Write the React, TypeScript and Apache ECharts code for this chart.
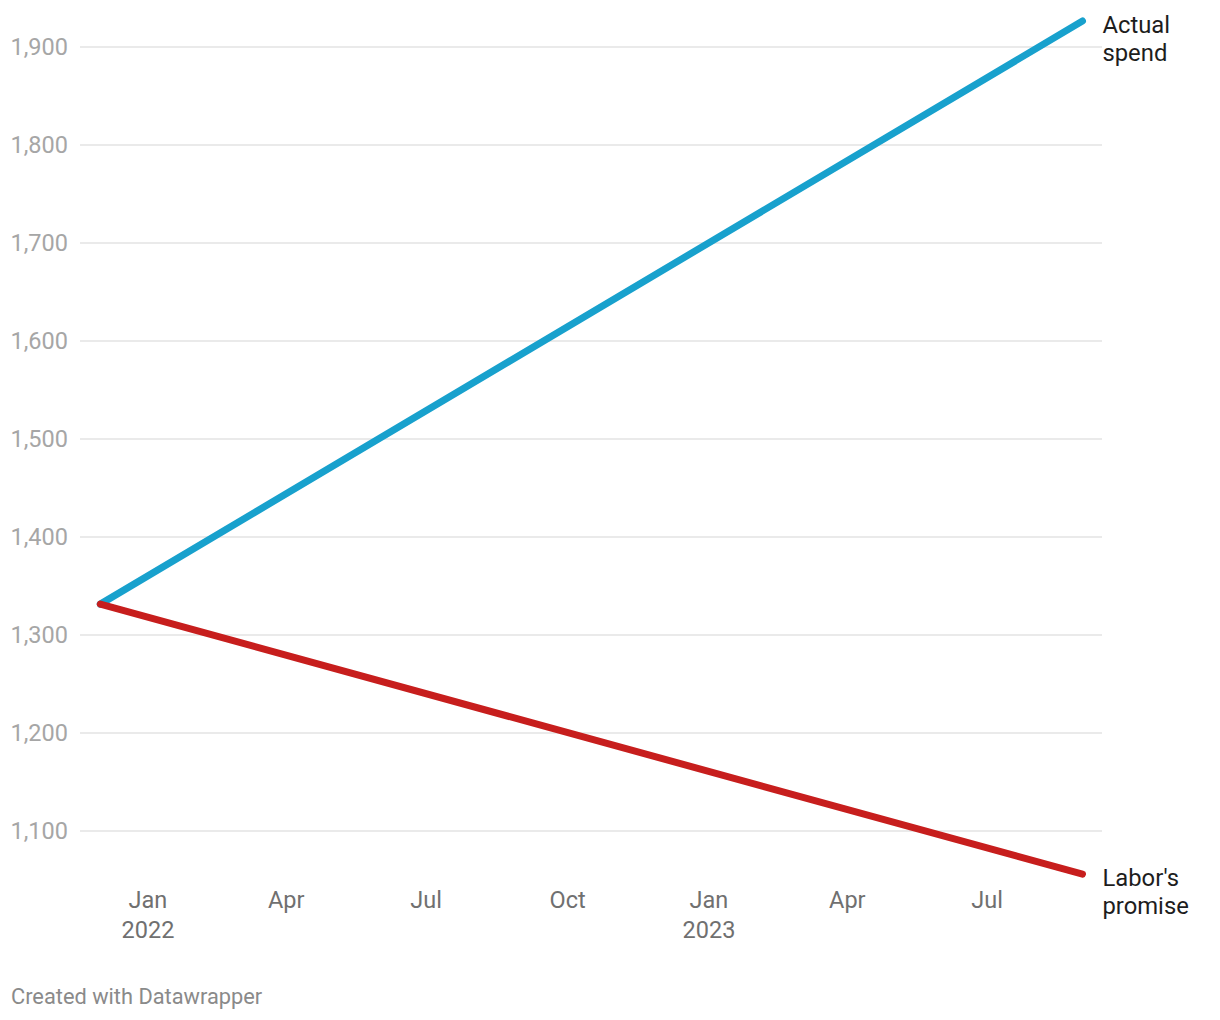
import React, { useEffect, useRef } from "react";
import * as echarts from "echarts";

const dates = ["2021-12-01", "2023-09-01"];
const actualSpend = [1331.5, 1926.5];
const laborPromise = [1331.5, 1056];
const xTickDates = [
  "2022-01-01",
  "2022-04-01",
  "2022-07-01",
  "2022-10-01",
  "2023-01-01",
  "2023-04-01",
  "2023-07-01",
];
const monthNames = ["Jan", "Feb", "Mar", "Apr", "May", "Jun", "Jul", "Aug", "Sep", "Oct", "Nov", "Dec"];
const seriesNames = ["Actual\nspend", "Labor's\npromise"];
const yTicks = [1100, 1200, 1300, 1400, 1500, 1600, 1700, 1800, 1900];

const toTs = (s: string) => {
  const [y, m, d] = s.split("-").map(Number);
  return new Date(y, m - 1, d).getTime();
};

export default function App() {
  const ref = useRef<HTMLDivElement>(null);
  useEffect(() => {
    document.body.style.margin = "0";
    const chart = echarts.init(ref.current!, null, { renderer: "svg" });
    const DAY = 86400000;
    const jan22 = toTs("2022-01-01");
    const jan23 = toTs("2023-01-01");
    const xMin = jan22 - 44.2 * DAY;
    const xMax = jan23 + 255.7 * DAY;
    const font = "Roboto, 'Noto Sans', sans-serif";
    const mk = (vals: number[]) => dates.map((d, i) => [toTs(d), vals[i]]);
    const endLabel = (text: string) => ({
      show: true,
      formatter: text,
      color: "#1d1d1d",
      fontFamily: font,
      fontSize: 23.8,
      lineHeight: 28,
      distance: 20,
      verticalAlign: "top",
      offset: [0, -10],
    });
    chart.setOption({
      animation: false,
      backgroundColor: "#ffffff",
      grid: { left: 80, right: 118, top: 47, bottom: 189, containLabel: false },
      xAxis: {
        type: "value",
        min: xMin,
        max: xMax,
        axisLine: { show: false },
        axisTick: { show: false },
        splitLine: { show: false },
        axisLabel: {
          customValues: xTickDates.map(toTs),
          margin: 54,
          color: "#707070",
          fontFamily: font,
          fontSize: 23.5,
          lineHeight: 30,
          verticalAlign: "top",
          showMinLabel: true,
          showMaxLabel: true,
          hideOverlap: false,
          formatter: (v: number) => {
            const d = new Date(v);
            const m = d.getMonth();
            return m === 0 ? `${monthNames[m]}\n${d.getFullYear()}` : monthNames[m];
          },
        },
      },
      yAxis: {
        type: "value",
        min: yTicks[0],
        max: yTicks[yTicks.length - 1],
        interval: 100,
        axisLine: { show: false },
        axisTick: { show: false },
        splitLine: { lineStyle: { color: "#e3e3e3", width: 1.5 } },
        axisLabel: {
          margin: 12,
          color: "#a6a6a6",
          fontFamily: font,
          fontSize: 23.5,
          formatter: (v: number) => v.toLocaleString("en-US"),
        },
      },
      series: [
        {
          name: seriesNames[0],
          type: "line",
          data: mk(actualSpend),
          showSymbol: false,
          clip: false,
          lineStyle: { color: "#18a1cd", width: 7, cap: "round", join: "round" },
          endLabel: endLabel(seriesNames[0]),
        },
        {
          name: seriesNames[1],
          type: "line",
          data: mk(laborPromise),
          showSymbol: false,
          clip: false,
          lineStyle: { color: "#c71e1d", width: 7, cap: "round", join: "round" },
          endLabel: endLabel(seriesNames[1]),
        },
      ],
      graphic: [
        {
          type: "text",
          left: 11,
          top: 985,
          style: {
            text: "Created with Datawrapper",
            fill: "#8a8a8a",
            font: `21.8px ${font}`,
          },
        },
      ],
    });
    return () => chart.dispose();
  }, []);
  return (
    <div
      ref={ref}
      style={{ position: "absolute", left: 0, top: 0, width: 1220, height: 1020 }}
    />
  );
}
